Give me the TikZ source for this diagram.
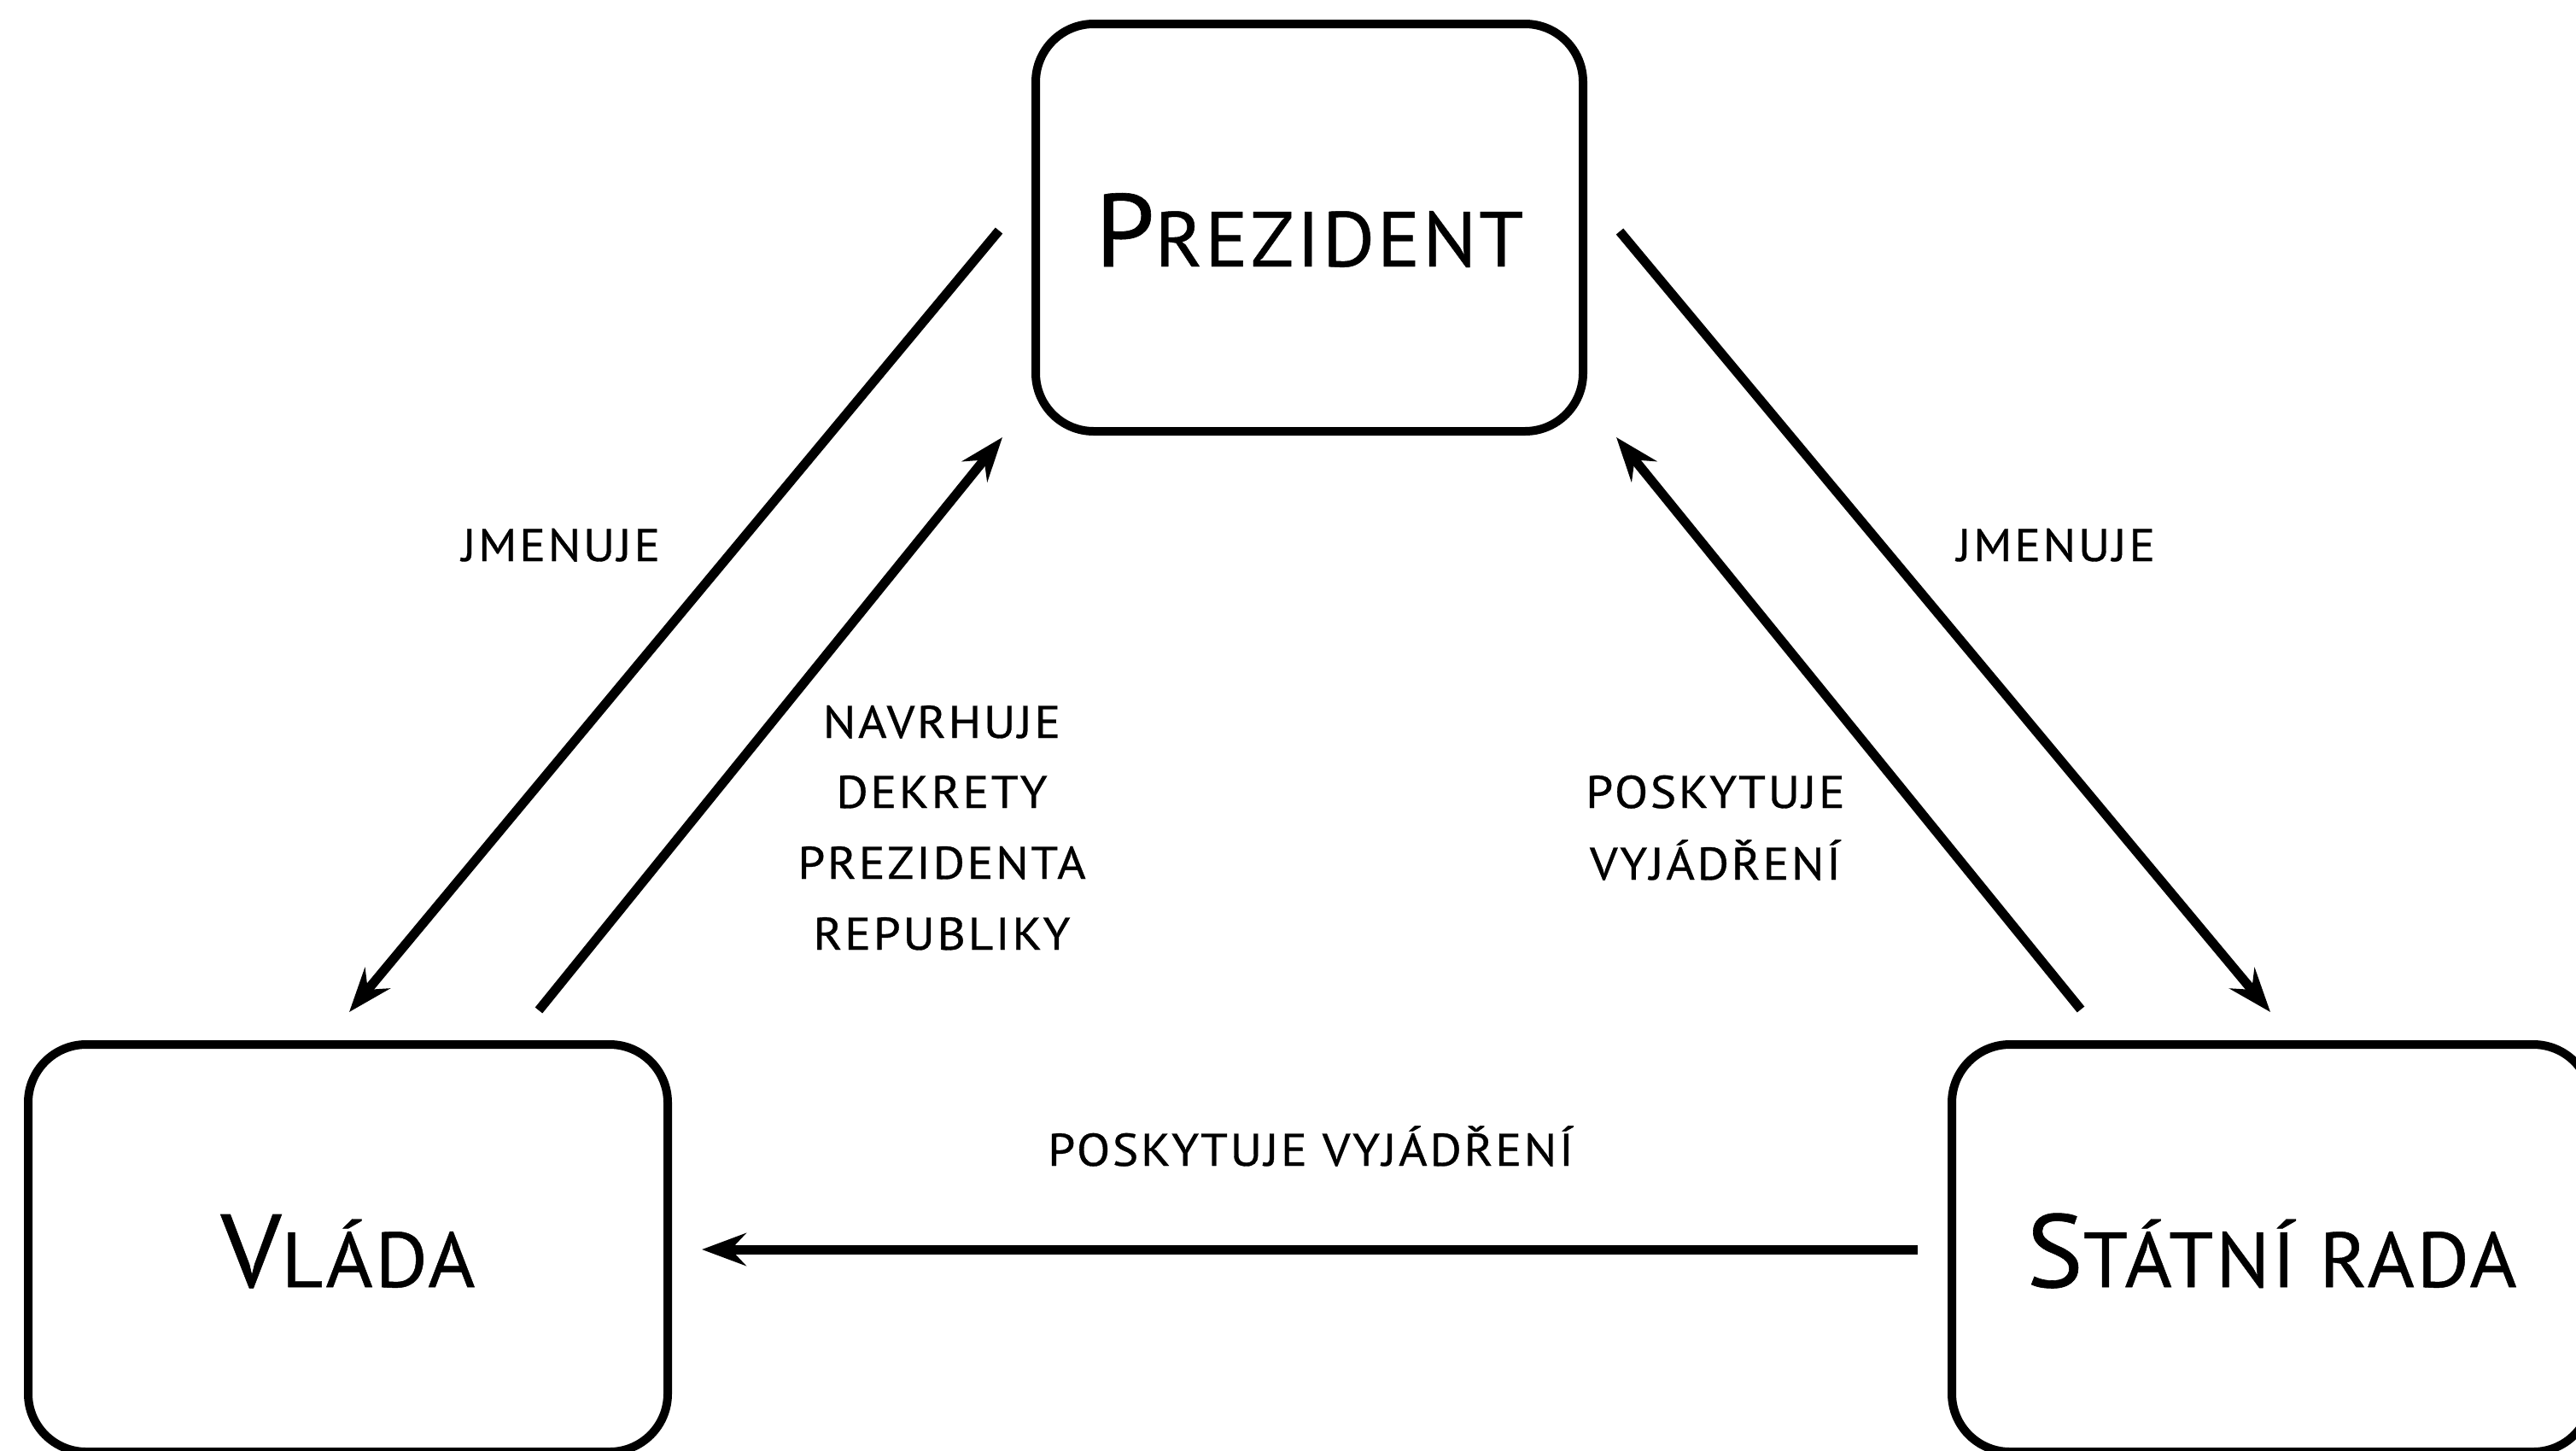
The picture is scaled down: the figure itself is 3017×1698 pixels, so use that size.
\documentclass[tikz,border=0pt]{standalone}
\usepackage{fontspec}
\setmainfont{PT Sans}
\newfontfamily\BoxFont[LetterSpace=3, FakeStretch=1.03, FakeBold=0.5]{PT Sans}
\newfontfamily\LabelFont[LetterSpace=5, FakeStretch=1.07, FakeBold=0.6]{PT Sans}
\usetikzlibrary{arrows.meta}
\newcommand\CapBig[1]{{\fontsize{60.7pt}{60.7pt}\selectfont #1}}
\newcommand\CapSmall[1]{{\fontsize{45.7pt}{45.7pt}\selectfont #1}}
\begin{document}
\begin{tikzpicture}[x=0.5pt,y=-0.5pt,
  box/.style={draw=black, line width=5pt, rounded corners=34pt, inner sep=0pt,
    minimum height=238.5pt, text height=45.5pt, text depth=0pt, font=\BoxFont},
  lbl/.style={font=\LabelFont\fontsize{26.8pt}{26.8pt}\selectfont, inner sep=0pt, anchor=base},
  conn/.style={line width=5.5pt, -{Stealth[length=25.8pt,width=19pt,inset=8.8pt]}}]
\useasboundingbox (0,0) rectangle (3017,1698);
\fill[white] (0,0) rectangle (3017,1698);
% boxes
\node[box, minimum width=320.5pt] (prez) at (1533.5,266.5) {\CapBig{P}\CapSmall{REZIDENT}};
\node[box, minimum width=374.5pt] (vlada) at (407.5,1461.5) {\CapBig{V}\CapSmall{LÁDA}};
\node[box, minimum width=374.5pt] (rada) at (2660.5,1461.5) {\CapBig{S}\CapSmall{TÁTNÍ RADA}};
% connector end points
\coordinate (p1) at (1170,270);  \coordinate (v1) at (409,1185);
\coordinate (v2) at (631,1183);  \coordinate (p2) at (1174,512);
\coordinate (p3) at (1897,271);  \coordinate (r3) at (2659,1185);
\coordinate (r4) at (2437,1182); \coordinate (p4) at (1893,512);
\coordinate (r5) at (2246,1463); \coordinate (v5) at (822,1463);
% connectors
\draw[conn] (p1) -- (v1);
\draw[conn] (v2) -- (p2);
\draw[conn] (p3) -- (r3);
\draw[conn] (r4) -- (p4);
\draw[conn] (r5) -- (v5);
% labels
\node[lbl] (jm1) at (657,657) {JMENUJE};
\node[lbl] (jm2) at (2408,657) {JMENUJE};
\node[lbl] (nav1) at (1103,864) {NAVRHUJE};
\node[lbl] (nav2) at (1103,946) {DEKRETY};
\node[lbl] (nav3) at (1103,1029) {PREZIDENTA};
\node[lbl] (nav4) at (1103,1112) {REPUBLIKY};
\node[lbl] (pos1) at (2009,946) {POSKYTUJE};
\node[lbl] (pos2) at (2009,1030) {VYJÁDŘENÍ};
\node[lbl] (pos3) at (1535,1365) {POSKYTUJE VYJÁDŘENÍ};
\end{tikzpicture}
\end{document}
